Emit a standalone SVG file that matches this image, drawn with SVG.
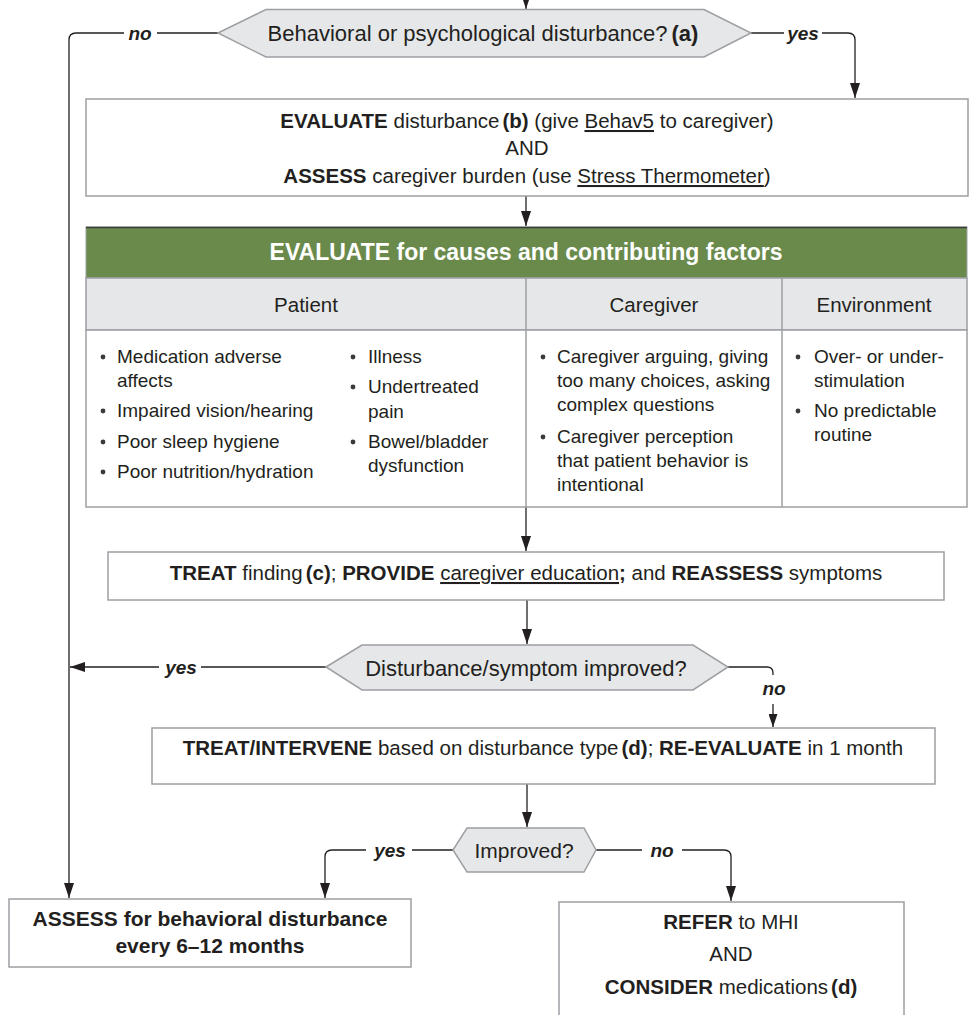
<svg xmlns="http://www.w3.org/2000/svg" width="972" height="1015" viewBox="0 0 972 1015">
<defs>
<style>
text{font-family:"Liberation Sans",Arial,sans-serif;fill:#231f20}
.box{fill:#fff;stroke:#9d9fa2;stroke-width:1.5}
.dia{fill:#e6e7e8;stroke:#9d9fa2;stroke-width:1.5}
.bx{font-size:20.5px}
.dt{font-size:22px}
.bd{font-size:19px}
.b{font-weight:bold}
.u{text-decoration:underline}
.lbl{font-size:19px;font-weight:bold;font-style:italic}
.conn{fill:none;stroke:#231f20;stroke-width:1.3}
.lb{fill:#fff}
.dot{fill:#3a3a3a}
</style>
<marker id="ah" viewBox="0 0 15 10" refX="15" refY="5" markerWidth="15" markerHeight="10" markerUnits="userSpaceOnUse" orient="auto">
<path d="M0,0 L15,5 L0,10 z" fill="#231f20"/>
</marker>
<marker id="ahs" viewBox="0 0 13 9" refX="13" refY="4.5" markerWidth="13" markerHeight="9" markerUnits="userSpaceOnUse" orient="auto">
<path d="M0,0 L13,4.5 L0,9 z" fill="#231f20"/>
</marker>
</defs>
<rect width="972" height="1015" fill="#fff"/>

<g id="connectors">
<path class="conn" d="M526,0 V9" marker-end="url(#ah)"/>
<path class="conn" d="M218,33 H76 Q69,33 69,40 V898" marker-end="url(#ah)"/>
<path class="conn" d="M751,33 H848 Q855,33 855,40 V98" marker-end="url(#ah)"/>
<path class="conn" d="M526,196 V226" marker-end="url(#ah)"/>
<path class="conn" d="M526,507 V551" marker-end="url(#ah)"/>
<path class="conn" d="M527,600 V644" marker-end="url(#ah)"/>
<path class="conn" d="M326,667 H70" marker-end="url(#ah)"/>
<path class="conn" d="M728,667 H767 Q773,667 773,673 V727" marker-end="url(#ahs)"/>
<path class="conn" d="M527,784 V827" marker-end="url(#ah)"/>
<path class="conn" d="M453,850 H332 Q325,850 325,857 V898" marker-end="url(#ah)"/>
<path class="conn" d="M596,850 H724 Q731,850 731,857 V901" marker-end="url(#ah)"/>
<rect class="lb" x="124" y="22" width="33" height="22"/>
<text class="lbl" x="140" y="40" text-anchor="middle">no</text>
<rect class="lb" x="784" y="22" width="38" height="22"/>
<text class="lbl" x="803" y="40" text-anchor="middle">yes</text>
<rect class="lb" x="159" y="656" width="42" height="22"/>
<text class="lbl" x="181" y="674" text-anchor="middle">yes</text>
<rect class="lb" x="760" y="675" width="28" height="29"/>
<text class="lbl" x="774" y="695" text-anchor="middle">no</text>
<rect class="lb" x="366" y="839" width="46" height="22"/>
<text class="lbl" x="390" y="857" text-anchor="middle">yes</text>
<rect class="lb" x="642" y="839" width="40" height="22"/>
<text class="lbl" x="662" y="857" text-anchor="middle">no</text>
</g>

<g id="decision1">
<polygon class="dia" points="218,33 266,9.5 704,9.5 751,33 704,57 266,57"/>
<text class="dt" x="483" y="41" text-anchor="middle">Behavioral or psychological disturbance?<tspan class="b" dx="4">(a)</tspan></text>
</g>

<g id="evaluate">
<rect class="box" x="86" y="99" width="882" height="97"/>
<text class="bx" x="527" y="128" text-anchor="middle"><tspan class="b">EVALUATE</tspan> disturbance<tspan class="b" dx="3">(b)</tspan> (give <tspan class="u">Behav5</tspan> to caregiver)</text>
<text class="bx" x="527" y="155" text-anchor="middle">AND</text>
<text class="bx" x="527" y="183" text-anchor="middle"><tspan class="b">ASSESS</tspan> caregiver burden (use <tspan class="u">Stress Thermometer</tspan>)</text>
</g>

<g id="causes-table">
<rect x="86" y="227" width="881" height="51" fill="#6a8a4c" stroke="#9d9fa2" stroke-width="1"/>
<line x1="86" y1="227.5" x2="967" y2="227.5" stroke="#3a3a3a" stroke-width="1.5"/>
<text x="526" y="260" text-anchor="middle" style="font-size:23px;font-weight:bold;fill:#fff">EVALUATE for causes and contributing factors</text>
<rect x="86" y="278" width="881" height="52" fill="#e6e7e8" stroke="#9d9fa2" stroke-width="1.5"/>
<rect x="86" y="330" width="881" height="177" fill="#fff" stroke="#9d9fa2" stroke-width="1.5"/>
<line x1="526" y1="278" x2="526" y2="507" stroke="#9d9fa2" stroke-width="1.5"/>
<line x1="782" y1="278" x2="782" y2="507" stroke="#9d9fa2" stroke-width="1.5"/>
<text class="bx" x="306" y="312" text-anchor="middle">Patient</text>
<text class="bx" x="654" y="312" text-anchor="middle">Caregiver</text>
<text class="bx" x="874" y="312" text-anchor="middle">Environment</text>

<circle class="dot" cx="103" cy="357" r="2.4"/>
<text class="bd" x="117" y="363">Medication adverse</text>
<text class="bd" x="117" y="387">affects</text>
<circle class="dot" cx="103" cy="411" r="2.4"/>
<text class="bd" x="117" y="417">Impaired vision/hearing</text>
<circle class="dot" cx="103" cy="442" r="2.4"/>
<text class="bd" x="117" y="448">Poor sleep hygiene</text>
<circle class="dot" cx="103" cy="472" r="2.4"/>
<text class="bd" x="117" y="478">Poor nutrition/hydration</text>

<circle class="dot" cx="353" cy="357" r="2.4"/>
<text class="bd" x="368" y="363">Illness</text>
<circle class="dot" cx="353" cy="387" r="2.4"/>
<text class="bd" x="368" y="393">Undertreated</text>
<text class="bd" x="368" y="418">pain</text>
<circle class="dot" cx="353" cy="442" r="2.4"/>
<text class="bd" x="368" y="448">Bowel/bladder</text>
<text class="bd" x="368" y="472">dysfunction</text>

<circle class="dot" cx="543" cy="357" r="2.4"/>
<text class="bd" x="557" y="363">Caregiver arguing, giving</text>
<text class="bd" x="557" y="387">too many choices, asking</text>
<text class="bd" x="557" y="411">complex questions</text>
<circle class="dot" cx="543" cy="437" r="2.4"/>
<text class="bd" x="557" y="443">Caregiver perception</text>
<text class="bd" x="557" y="467">that patient behavior is</text>
<text class="bd" x="557" y="491">intentional</text>

<circle class="dot" cx="798" cy="357" r="2.4"/>
<text class="bd" x="814" y="363">Over- or under-</text>
<text class="bd" x="814" y="387">stimulation</text>
<circle class="dot" cx="798" cy="411" r="2.4"/>
<text class="bd" x="814" y="417">No predictable</text>
<text class="bd" x="814" y="441">routine</text>
</g>

<g id="treat">
<rect class="box" x="108" y="552" width="836" height="48"/>
<text class="bx" x="526" y="580" text-anchor="middle"><tspan class="b">TREAT</tspan> finding<tspan class="b" dx="3">(c)</tspan>; <tspan class="b">PROVIDE</tspan> <tspan class="u">caregiver education</tspan><tspan class="b">;</tspan> and <tspan class="b">REASSESS</tspan> symptoms</text>
</g>

<g id="decision2">
<polygon class="dia" points="326,667 362,645 693,645 728,667 693,690 362,690"/>
<text class="dt" x="526" y="676" text-anchor="middle">Disturbance/symptom improved?</text>
</g>

<g id="intervene">
<rect class="box" x="152" y="728" width="783" height="56"/>
<text class="bx" x="543" y="755" text-anchor="middle"><tspan class="b">TREAT/INTERVENE</tspan> based on disturbance type<tspan class="b" dx="3">(d)</tspan>; <tspan class="b">RE-EVALUATE</tspan> in 1 month</text>
</g>

<g id="decision3">
<polygon class="dia" points="453,850 467,828 584,828 596,850 584,872 467,872"/>
<text x="524" y="858" text-anchor="middle" style="font-size:21px">Improved?</text>
</g>

<g id="assess">
<rect class="box" x="9" y="899" width="402" height="68"/>
<text x="210" y="926" text-anchor="middle" style="font-size:21px;font-weight:bold">ASSESS for behavioral disturbance</text>
<text x="210" y="953" text-anchor="middle" style="font-size:21px;font-weight:bold">every 6–12 months</text>
</g>

<g id="refer">
<rect class="box" x="559" y="902" width="345" height="130"/>
<text class="bx" x="731" y="929" text-anchor="middle"><tspan class="b">REFER</tspan> to MHI</text>
<text class="bx" x="731" y="961" text-anchor="middle">AND</text>
<text class="bx" x="731" y="994" text-anchor="middle"><tspan class="b">CONSIDER</tspan> medications<tspan class="b" dx="3">(d)</tspan></text>
</g>
</svg>
